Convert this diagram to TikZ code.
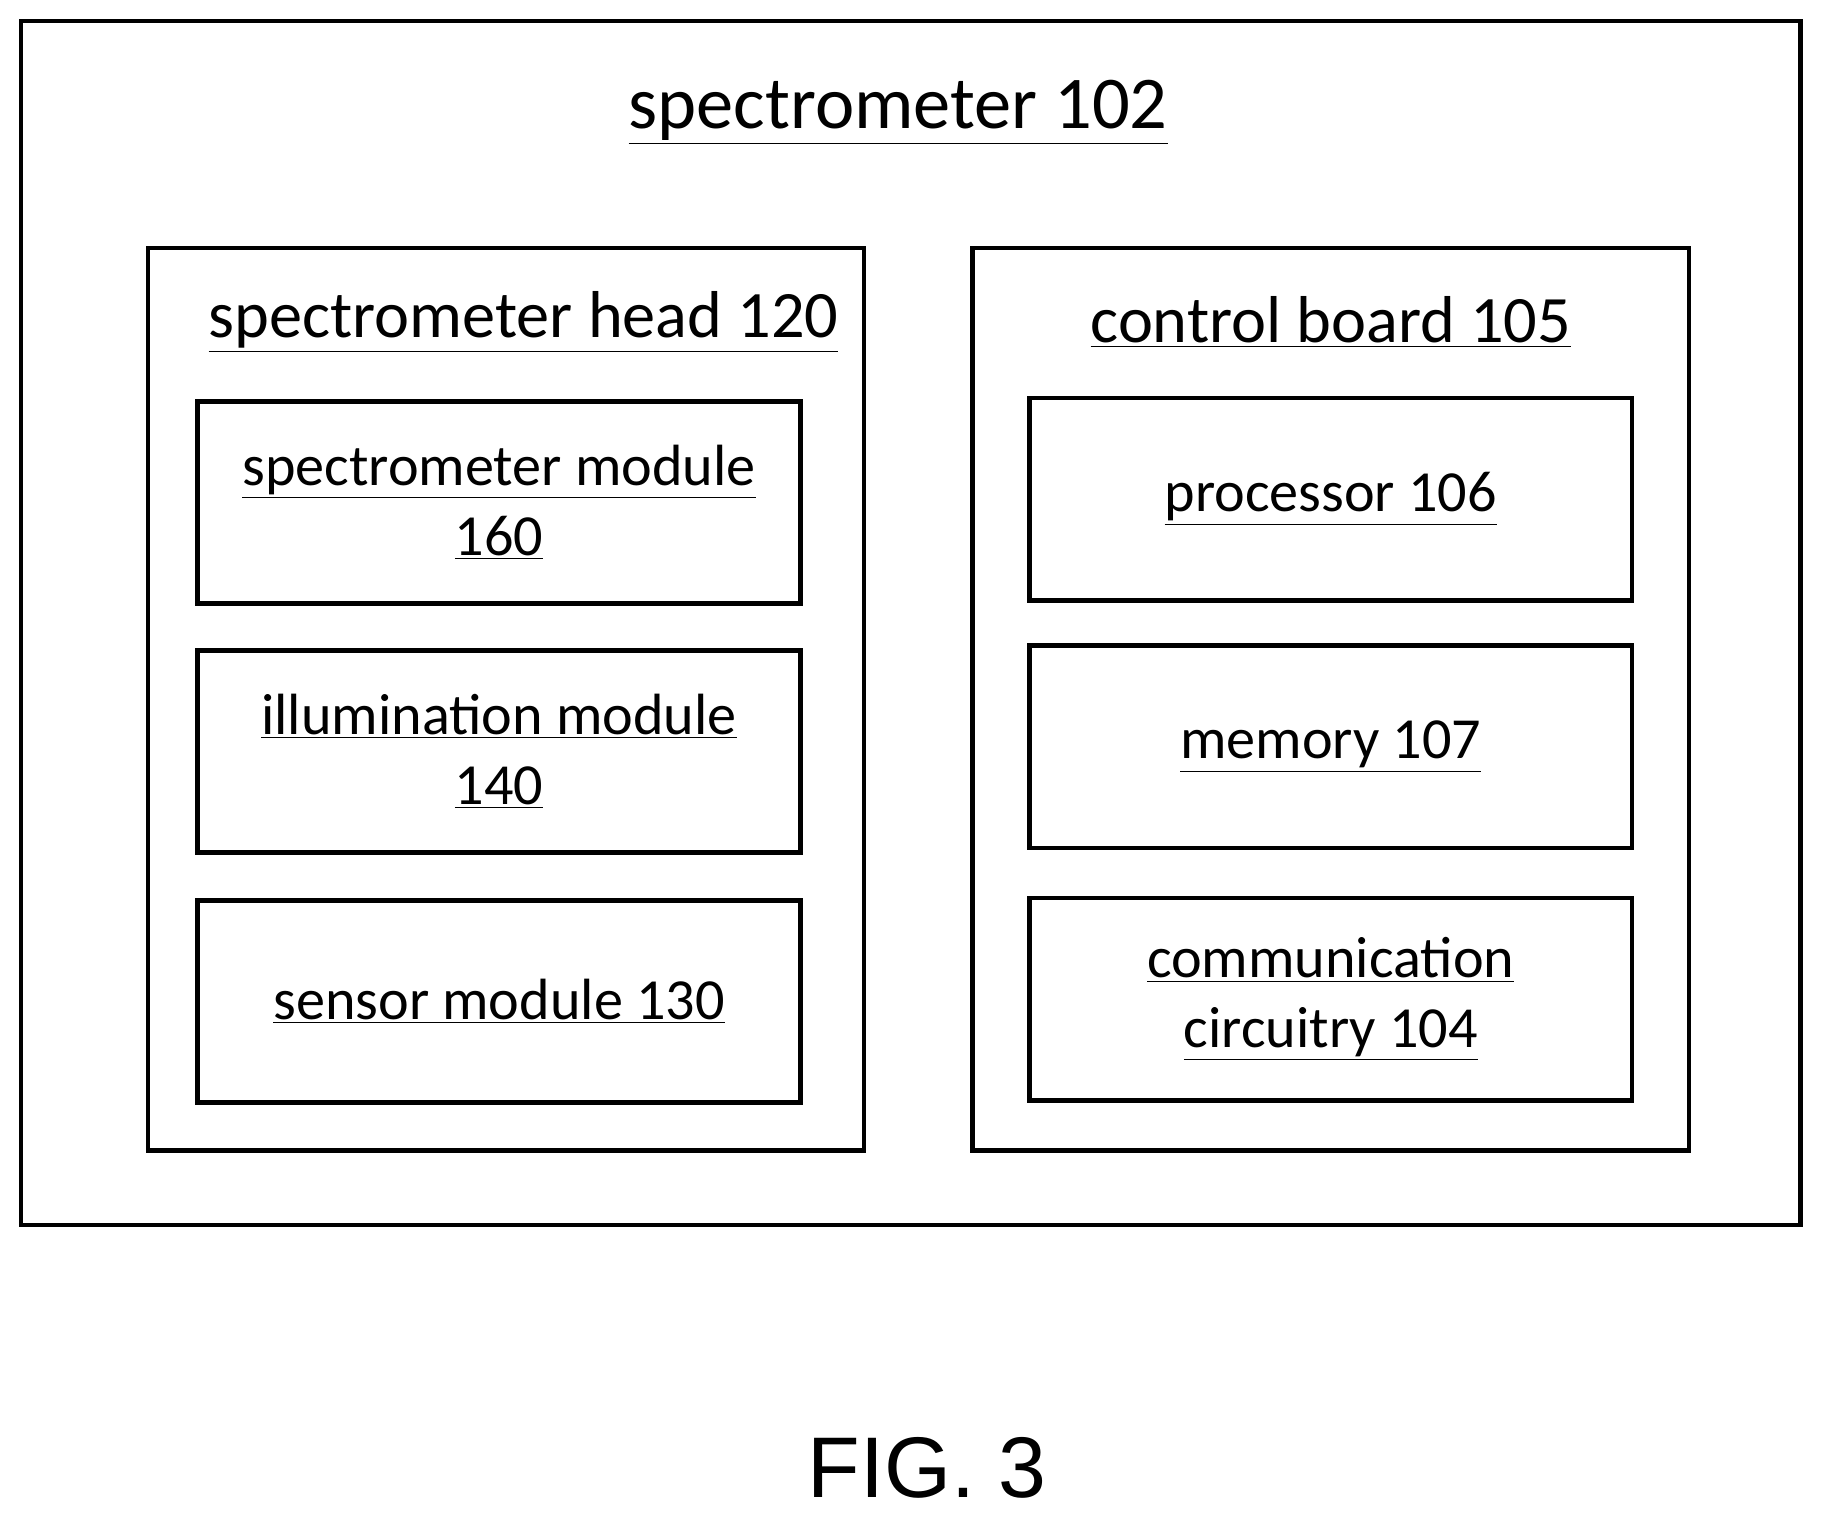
\documentclass[tikz,border=0pt]{standalone}
\usepackage{fontspec}
\setmainfont{Carlito}
\newfontfamily\figfont{Liberation Sans}
\tikzstyle{outer_box}=[
  draw,
  line width=2pt,
  color=black,
]
\tikzstyle{group_box}=[
  draw,
  line width=1.8pt,
  minimum width=308pt,
  minimum height=388pt,
]
\tikzstyle{part_box}=[
  draw,
  line width=2pt,
  minimum width=259pt,
  minimum height=87pt,
  align=center,
  font=\fontsize{25}{30}\selectfont,
]
\tikzstyle{title}=[
  font=\fontsize{28.5}{32}\selectfont,
]
\begin{document}
\begin{tikzpicture}[x=0.5pt, y=-0.5pt]
\useasboundingbox (0,0) rectangle (1568,1307);
\draw [outer_box] (18,18) rectangle (1548,1053);
\node [title, font=\fontsize{32}{36}\selectfont] (spec) at (772,97) {\underline{spectrometer 102}};
% left group
\node [group_box] (head) at (435,601) {};
\node [title] (headlbl) at (450,277) {\underline{spectrometer head 120}};
\node [part_box] (mod160) at (429,432) {\underline{spectrometer module}\\\underline{160}};
\node [part_box] (mod140) at (429,646) {\underline{illumination module}\\\underline{140}};
\node [part_box] (mod130) at (429,861) {\underline{sensor module 130}};
% right group
\node [group_box] (board) at (1144,601) {};
\node [title] (boardlbl) at (1144,277) {\underline{control board 105}};
\node [part_box] (proc) at (1144,429) {\underline{processor 106}};
\node [part_box] (mem) at (1144,642) {\underline{memory 107}};
\node [part_box] (comm) at (1144,859) {\underline{communication}\\\underline{circuitry 104}};
\node [font=\figfont\fontsize{37}{40}\selectfont] (fig) at (797,1262) {FIG. 3};
\end{tikzpicture}
\end{document}
